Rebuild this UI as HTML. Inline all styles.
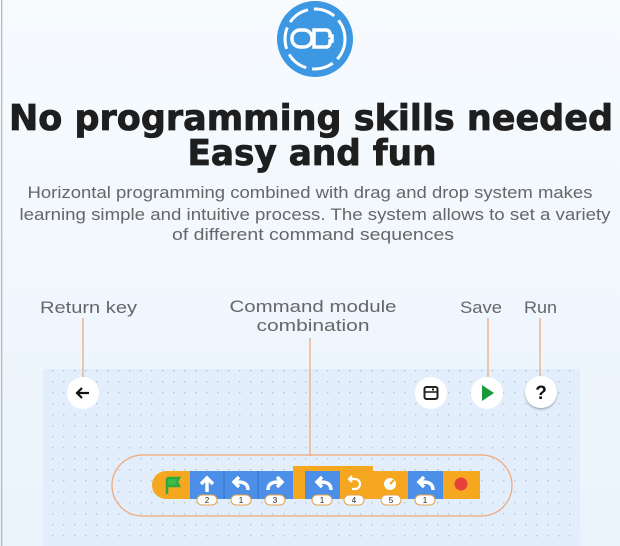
<!DOCTYPE html>
<html><head><meta charset="utf-8"><style>
html,body{margin:0;padding:0;background:#f3f8fd;}
svg{display:block;}
text{font-family:"Liberation Sans",sans-serif;}
</style></head><body>
<svg width="620" height="546" viewBox="0 0 620 546" xmlns="http://www.w3.org/2000/svg">
<defs>
<linearGradient id="bg" x1="0" y1="0" x2="0" y2="1">
<stop offset="0" stop-color="#f7fbfe"/><stop offset="1" stop-color="#eaf3fc"/>
</linearGradient>
<pattern id="dots" x="52" y="370" width="11" height="11" patternUnits="userSpaceOnUse">
<rect x="0" y="0" width="1.4" height="1.4" fill="#b9c4cf"/>
</pattern>
<filter id="sh" x="-30%" y="-30%" width="160%" height="170%"><feDropShadow dx="0" dy="1.5" stdDeviation="1" flood-color="#000" flood-opacity="0.3"/></filter>
</defs>
<rect width="620" height="546" fill="url(#bg)"/>
<rect x="1" y="0" width="1.3" height="546" fill="#b8b8b8"/>
<!-- logo -->
<circle cx="315" cy="39" r="38" fill="#3c98e2"/>
<circle cx="315" cy="39" r="30" fill="none" stroke="#fff" stroke-width="3" stroke-dasharray="22 6"/>
<rect x="292" y="30" width="20" height="17" rx="8" fill="none" stroke="#fff" stroke-width="3.5"/>
<path d="M314 30 h12 a4 4 0 0 1 4 4 v2 h2 v5 h-2 v2 a4 4 0 0 1 -4 4 h-12 z" fill="none" stroke="#fff" stroke-width="3.5"/>
<!-- heading -->
<g style="font-family:'DejaVu Sans',sans-serif" font-weight="bold" fill="#1e1e1e" stroke="#1e1e1e" stroke-width="0.8">
<text x="311" y="130" text-anchor="middle" font-size="36" textLength="604" lengthAdjust="spacingAndGlyphs" style="font-family:'DejaVu Sans',sans-serif">No programming skills needed</text>
<text x="312" y="165" text-anchor="middle" font-size="36" textLength="249" lengthAdjust="spacingAndGlyphs" style="font-family:'DejaVu Sans',sans-serif">Easy and fun</text>
</g>
<text x="310" y="198" text-anchor="middle" font-size="16.5" fill="#666" textLength="565" lengthAdjust="spacingAndGlyphs">Horizontal programming combined with drag and drop system makes</text>
<text x="315" y="220" text-anchor="middle" font-size="16.5" fill="#666" textLength="591" lengthAdjust="spacingAndGlyphs">learning simple and intuitive process. The system allows to set a variety</text>
<text x="313" y="240" text-anchor="middle" font-size="16.5" fill="#666" textLength="282" lengthAdjust="spacingAndGlyphs">of different command sequences</text>
<!-- labels -->
<text x="40" y="313" font-size="17" fill="#666" textLength="97" lengthAdjust="spacingAndGlyphs">Return key</text>
<text x="313" y="312" text-anchor="middle" font-size="17" fill="#666" textLength="167" lengthAdjust="spacingAndGlyphs">Command module</text>
<text x="313" y="331" text-anchor="middle" font-size="17" fill="#666" textLength="113" lengthAdjust="spacingAndGlyphs">combination</text>
<text x="460" y="313" font-size="17" fill="#666" textLength="42" lengthAdjust="spacingAndGlyphs">Save</text>
<text x="524" y="313" font-size="17" fill="#666" textLength="33" lengthAdjust="spacingAndGlyphs">Run</text>
<!-- panel -->
<rect x="43" y="369" width="537" height="177" fill="#e2eefb"/>
<rect x="43" y="369" width="537" height="177" fill="url(#dots)"/>
<!-- leader lines -->
<g stroke="#f0a97a" stroke-width="1.3">
<line x1="83" y1="318" x2="83" y2="380"/>
<line x1="310" y1="338" x2="310" y2="456"/>
<line x1="488" y1="318" x2="488" y2="380"/>
<line x1="540" y1="318" x2="540" y2="378"/>
</g>
<!-- buttons -->
<circle cx="83" cy="393" r="16" fill="#fff"/>
<path d="M89 393 H77 M82 388 L77 393 L82 398" stroke="#111" stroke-width="2.2" fill="none"/>
<circle cx="431" cy="393" r="16" fill="#fff"/>
<rect x="424.5" y="387" width="13" height="12" rx="2" fill="none" stroke="#222" stroke-width="2"/>
<line x1="425" y1="392" x2="437" y2="392" stroke="#222" stroke-width="1.6"/>
<rect x="432" y="388.5" width="2" height="2" fill="#222"/>
<circle cx="487" cy="393" r="16" fill="#fff"/>
<path d="M482 385 L494 393 L482 401 Z" fill="#169a3a"/>
<circle cx="541" cy="392" r="16" fill="#fff" filter="url(#sh)"/>
<text x="541" y="399" text-anchor="middle" font-size="19" font-weight="bold" fill="#111">?</text>
<!-- capsule -->
<rect x="112" y="455" width="400" height="61" rx="30.5" fill="none" stroke="#f0a97a" stroke-width="1.3"/>
<!-- blocks -->
<path d="M166 471 H190 V499 H166 A14 14 0 0 1 166 471 Z" fill="#f5a81f"/>
<path d="M167 478 v16 M167 478 h12 l-2 4 l2 4 h-12" stroke="#2eaa3c" stroke-width="2.5" fill="#3cba4a"/>
<rect x="190" y="471" width="34" height="28" fill="#4b8fe8"/>
<rect x="224" y="471" width="34" height="28" fill="#4b8fe8"/>
<rect x="258" y="471" width="35" height="28" fill="#4b8fe8"/>
<rect x="293" y="466" width="80" height="33" fill="#f5a81f"/>
<rect x="305" y="471" width="35" height="28" fill="#4b8fe8"/>
<rect x="373" y="471" width="35" height="28" fill="#f5a81f"/>
<rect x="408" y="471" width="35" height="28" fill="#4b8fe8"/>
<rect x="443" y="471" width="37" height="28" fill="#f5a81f"/>
<g stroke="#3570c0" stroke-width="1"><line x1="224" y1="471" x2="224" y2="499"/><line x1="258" y1="471" x2="258" y2="499"/></g>
<!-- icons -->
<g fill="#fff" stroke="#fff">
<path d="M207 492 V480 M201 484 L207 478 L213 484" stroke-width="3.5" fill="none"/>
<path d="M248 490 c0-6 -4-8 -10-8 h-3 M239 477 l-5 5 l5 5" stroke-width="3.5" fill="none"/>
<path d="M268 490 c0-6 4-8 10-8 h3 M277 477 l5 5 l-5 5" stroke-width="3.5" fill="none"/>
<path d="M331 490 c0-6 -4-8 -10-8 h-3 M322 477 l-5 5 l5 5" stroke-width="3.5" fill="none"/>
<path d="M350 479 h5 a5 5 0 0 1 0 10 h-3 M352 476 l-3 3 l3 3" stroke-width="2.2" fill="none"/>
<path d="M433 490 c0-6 -4-8 -10-8 h-3 M424 477 l-5 5 l5 5" stroke-width="3.5" fill="none"/>
</g>
<circle cx="390" cy="484" r="6" fill="#fff"/>
<path d="M390 484 L394 480" stroke="#f5a81f" stroke-width="2"/>
<circle cx="461" cy="484" r="6.5" fill="#e8403a"/>
<!-- number pills -->
<g fill="#fff" stroke="#e3a24f" stroke-width="1">
<rect x="197" y="495" width="20" height="10" rx="5"/>
<rect x="231" y="495" width="20" height="10" rx="5"/>
<rect x="265" y="495" width="20" height="10" rx="5"/>
<rect x="312" y="495" width="20" height="10" rx="5"/>
<rect x="344" y="495" width="20" height="10" rx="5"/>
<rect x="381" y="495" width="20" height="10" rx="5"/>
<rect x="415" y="495" width="20" height="10" rx="5"/>
</g>
<g font-size="8" fill="#222" text-anchor="middle">
<text x="207" y="503">2</text><text x="241" y="503">1</text><text x="275" y="503">3</text>
<text x="322" y="503">1</text><text x="354" y="503">4</text><text x="391" y="503">5</text><text x="425" y="503">1</text>
</g>
</svg>
</body></html>
